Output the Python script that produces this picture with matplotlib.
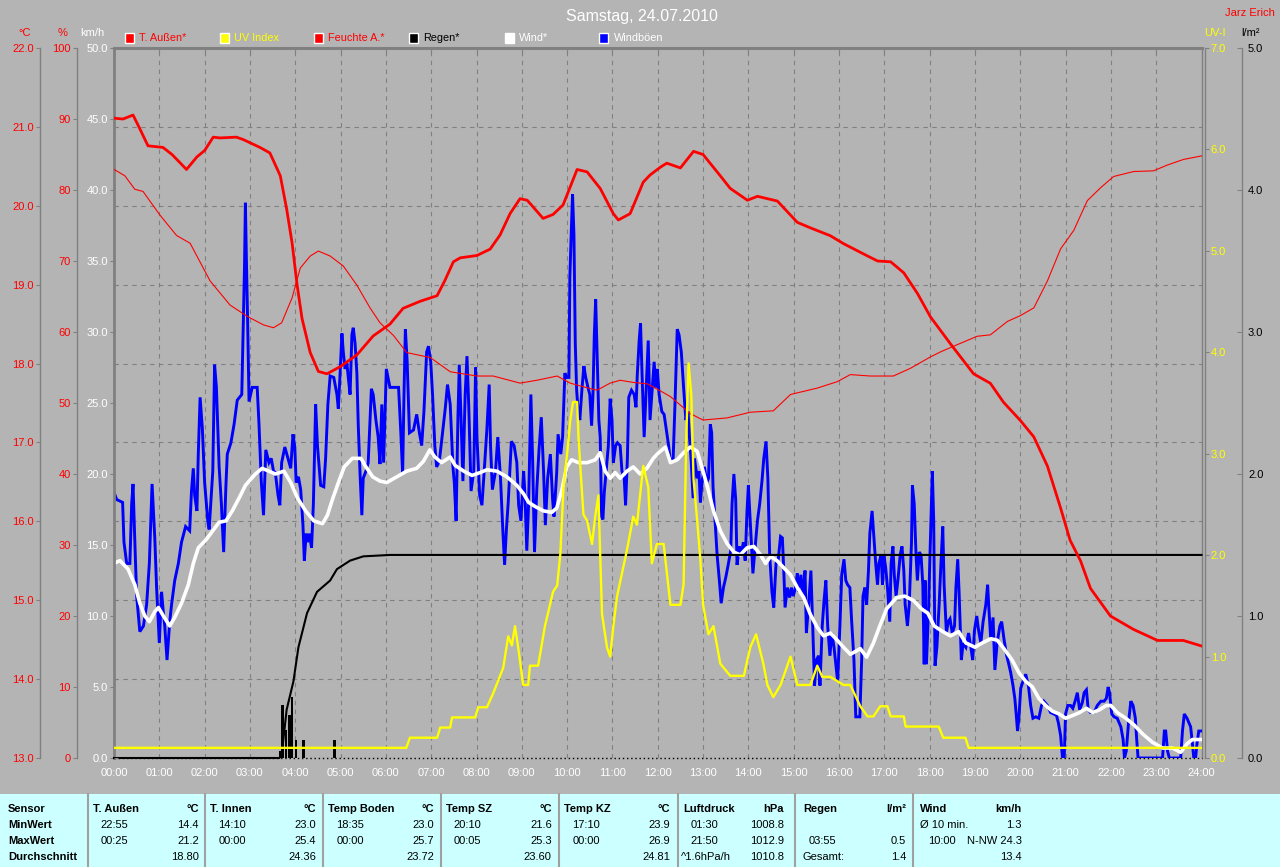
import matplotlib
matplotlib.use('Agg')
import matplotlib.pyplot as plt
from matplotlib.patches import Rectangle
from matplotlib.lines import Line2D

# ---------------- DATA ----------------
hours = list(range(25))
hour_labels = [f"{h:02d}:00" for h in hours]

temp_t = [0.00, 0.20, 0.42, 0.55, 0.75, 1.08, 1.28, 1.45, 1.60, 1.83, 2.00, 2.19, 2.34, 2.70, 2.85,
          3.22, 3.44, 3.67, 3.81, 3.93, 4.04, 4.15, 4.33, 4.51, 4.70, 4.99, 5.36, 5.72, 6.09, 6.38,
          6.76, 7.13, 7.30, 7.49, 7.64, 8.01, 8.30, 8.52, 8.74, 8.96, 9.12, 9.47, 9.69, 9.91, 10.22,
          10.44, 10.73, 11.02, 11.13, 11.39, 11.68, 11.83, 12.06, 12.20, 12.50, 12.79, 13.00, 13.38,
          13.60, 13.98, 14.20, 14.64, 15.08, 15.37, 15.81, 16.10, 16.54, 16.85, 17.14, 17.43, 17.73,
          18.02, 18.24, 18.46, 18.97, 19.34, 19.63, 20.00, 20.30, 20.60, 20.89, 21.10, 21.33, 21.55,
          21.99, 22.50, 23.03, 23.60, 24.00]
temp_v = [21.11, 21.10, 21.15, 21.00, 20.76, 20.74, 20.65, 20.55, 20.46, 20.62, 20.70, 20.87, 20.86,
          20.87, 20.84, 20.74, 20.67, 20.38, 19.96, 19.53, 19.00, 18.57, 18.14, 17.90, 17.87, 17.96,
          18.11, 18.35, 18.50, 18.70, 18.79, 18.86, 19.05, 19.29, 19.34, 19.37, 19.45, 19.63, 19.90,
          20.09, 20.07, 19.84, 19.89, 20.01, 20.46, 20.43, 20.22, 19.90, 19.82, 19.90, 20.30, 20.39,
          20.49, 20.54, 20.48, 20.69, 20.65, 20.38, 20.22, 20.07, 20.12, 20.06, 19.79, 19.72, 19.62,
          19.52, 19.39, 19.30, 19.29, 19.15, 18.89, 18.59, 18.42, 18.25, 17.87, 17.75, 17.51, 17.28,
          17.07, 16.70, 16.17, 15.76, 15.50, 15.15, 14.80, 14.63, 14.49, 14.49, 14.42]

hum_t = [0.00, 0.24, 0.46, 0.64, 1.01, 1.38, 1.68, 2.12, 2.56, 2.94, 3.30, 3.52, 3.70, 3.93, 4.11,
         4.33, 4.51, 4.77, 5.06, 5.36, 5.65, 5.87, 6.17, 6.46, 6.98, 7.42, 8.01, 8.37, 8.96, 9.33,
         9.78, 10.07, 10.29, 10.66, 10.95, 11.17, 11.46, 11.77, 12.06, 12.28, 12.72, 13.00, 13.53,
         14.04, 14.55, 14.93, 15.52, 15.96, 16.25, 16.69, 17.20, 17.58, 18.02, 18.24, 18.53, 19.05,
         19.34, 19.72, 20.00, 20.30, 20.60, 20.89, 21.18, 21.48, 21.77, 22.06, 22.50, 22.94, 23.24,
         23.60, 24.00]
hum_v = [82.9, 82.0, 80.1, 79.8, 76.5, 73.6, 72.5, 67.2, 63.8, 62.2, 61.0, 60.6, 61.3, 64.8, 69.0,
         70.7, 71.4, 70.7, 69.3, 66.6, 63.4, 61.3, 59.5, 57.1, 56.4, 54.4, 53.8, 53.8, 52.8, 53.2,
         53.8, 52.8, 52.4, 51.8, 52.8, 53.2, 52.9, 52.7, 51.7, 50.9, 48.5, 47.6, 47.9, 48.7, 48.9,
         51.2, 52.1, 53.0, 54.0, 53.8, 53.8, 54.9, 56.5, 57.2, 58.0, 59.4, 59.6, 61.5, 62.3, 63.4,
         67.2, 71.7, 74.3, 78.5, 80.3, 81.9, 82.6, 82.7, 83.5, 84.3, 84.8]

rain_sum_t = [0.00, 3.65, 3.70, 3.81, 3.96, 4.07, 4.26, 4.48, 4.77, 4.92, 5.21, 5.50, 6.09, 24.00]
rain_sum_v = [0.00, 0.00, 0.02, 0.34, 0.54, 0.78, 1.02, 1.17, 1.25, 1.33, 1.39, 1.42, 1.43, 1.43]

rain_bar_t = [3.67, 3.72, 3.80, 3.87, 3.93, 4.02, 4.18, 4.87]
rain_bar_v = [0.05, 0.37, 0.20, 0.30, 0.43, 0.13, 0.13, 0.13]

uv_t = [0.00, 6.45, 6.53, 7.13, 7.20, 7.42, 7.46, 7.97, 8.04, 8.23, 8.37, 8.59, 8.70, 8.78, 8.85,
        8.92, 9.03, 9.14, 9.18, 9.36, 9.51, 9.69, 9.78, 9.85, 9.92, 10.00, 10.07, 10.13, 10.22,
        10.25, 10.29, 10.36, 10.44, 10.55, 10.62, 10.69, 10.73, 10.77, 10.88, 10.95, 11.02, 11.10,
        11.32, 11.46, 11.54, 11.68, 11.79, 11.87, 11.98, 12.13, 12.28, 12.50, 12.57, 12.63, 12.68,
        12.74, 12.79, 12.87, 12.94, 13.00, 13.12, 13.23, 13.38, 13.60, 13.90, 14.04, 14.17, 14.33,
        14.42, 14.55, 14.71, 14.93, 15.08, 15.37, 15.52, 15.63, 15.81, 16.10, 16.25, 16.47, 16.63,
        16.76, 16.91, 17.07, 17.14, 17.43, 17.47, 18.20, 18.30, 18.79, 18.86, 24.00]
uv_v = [0.1, 0.1, 0.2, 0.2, 0.3, 0.3, 0.4, 0.4, 0.5, 0.5, 0.64, 0.89, 1.2, 1.11, 1.30,
        1.09, 0.72, 0.72, 0.91, 0.91, 1.30, 1.64, 1.70, 2.01, 2.67, 3.0, 3.33, 3.51, 3.51,
        3.17, 2.88, 2.40, 2.34, 2.11, 2.38, 2.59, 2.0, 1.42, 1.09, 1.0, 1.30, 1.59,
        2.05, 2.38, 2.30, 2.88, 2.67, 1.92, 2.11, 2.11, 1.51, 1.51, 1.71, 3.17, 3.89,
        3.58, 2.75, 2.34, 1.96, 1.51, 1.22, 1.30, 0.93, 0.81, 0.81, 1.09, 1.22, 0.93,
        0.72, 0.60, 0.72, 1.0, 0.72, 0.72, 0.91, 0.80, 0.80, 0.72, 0.72, 0.51, 0.41,
        0.41, 0.51, 0.51, 0.41, 0.41, 0.31, 0.31, 0.2, 0.2, 0.1, 0.1]

wind_t = [0.00, 0.13, 0.31, 0.46, 0.57, 0.68, 0.78, 0.90, 0.98, 1.09, 1.23, 1.34, 1.49, 1.64, 1.75,
          1.86, 2.04, 2.18, 2.32, 2.47, 2.61, 2.76, 2.90, 3.12, 3.27, 3.42, 3.56, 3.75, 3.90, 4.05,
          4.23, 4.41, 4.60, 4.71, 4.82, 4.93, 5.08, 5.26, 5.45, 5.56, 5.71, 5.87, 6.02, 6.24, 6.46,
          6.68, 6.83, 6.97, 7.08, 7.23, 7.42, 7.53, 7.72, 7.90, 8.08, 8.23, 8.45, 8.67, 8.89, 9.04,
          9.15, 9.30, 9.48, 9.66, 9.77, 9.88, 9.99, 10.10, 10.25, 10.44, 10.62, 10.73, 10.84, 10.95,
          11.06, 11.17, 11.32, 11.46, 11.61, 11.76, 11.90, 12.02, 12.17, 12.28, 12.43, 12.57, 12.72,
          12.87, 13.00, 13.12, 13.23, 13.38, 13.53, 13.68, 13.82, 13.97, 14.12, 14.27, 14.38, 14.49,
          14.63, 14.78, 14.93, 15.08, 15.22, 15.37, 15.52, 15.66, 15.81, 15.96, 16.10, 16.25, 16.36,
          16.47, 16.61, 16.76, 16.90, 17.05, 17.27, 17.45, 17.64, 17.82, 17.96, 18.10, 18.29, 18.46,
          18.64, 18.80, 19.00, 19.16, 19.35, 19.49, 19.64, 19.82, 19.97, 20.12, 20.27, 20.41, 20.56,
          20.71, 20.86, 21.00, 21.16, 21.31, 21.46, 21.60, 21.75, 21.90, 22.00, 22.14, 22.33, 22.52,
          22.70, 22.92, 23.14, 23.36, 23.54, 23.68, 23.80, 24.00]
wind_v = [13.7, 13.9, 13.3, 12.2, 10.9, 10.0, 9.6, 10.3, 10.6, 10.0, 9.3, 9.9, 10.9, 12.2, 13.7,
          14.8, 15.4, 16.0, 16.6, 16.7, 17.4, 18.3, 19.2, 20.0, 20.4, 20.2, 20.0, 20.2, 19.4, 18.3,
          17.4, 16.7, 16.5, 17.1, 18.2, 19.2, 20.5, 21.1, 21.1, 20.5, 19.8, 19.5, 19.4, 19.8, 20.2,
          20.4, 20.9, 21.7, 21.2, 20.8, 21.2, 20.6, 20.2, 19.9, 20.1, 20.3, 20.2, 19.8, 19.2, 18.6,
          18.0, 17.7, 17.4, 17.3, 17.6, 18.8, 20.5, 21.0, 20.8, 20.8, 21.0, 21.5, 20.2, 19.7,
          20.1, 19.7, 20.2, 20.5, 20.0, 20.4, 21.1, 21.5, 21.9, 20.8, 21.0, 21.5, 21.9,
          21.6, 20.2, 18.8, 17.4, 16.0, 15.1, 14.5, 14.3, 14.8, 14.9, 14.3, 13.7, 14.2,
          13.9, 13.4, 12.9, 12.0, 11.3, 10.1, 9.2, 8.6, 8.8, 8.3, 7.8, 7.3, 7.5,
          7.7, 7.1, 8.1, 9.3, 10.5, 11.3, 11.4, 11.1, 10.5, 10.2, 9.3, 8.9, 8.6,
          8.9, 8.1, 7.8, 8.1, 8.4, 8.3, 7.7, 6.9, 6.0, 5.4, 5.0, 4.2, 3.7,
          3.3, 3.1, 2.8, 3.0, 3.2, 3.5, 3.2, 3.4, 3.7, 3.7, 3.2, 2.8, 2.3,
          1.7, 1.1, 0.7, 0.7, 0.4, 1.0, 1.3, 1.3]

gust_t = [0.00, 0.06, 0.19, 0.22, 0.28, 0.35, 0.39, 0.42, 0.46, 0.50, 0.57, 0.65, 0.72, 0.78, 0.84,
          0.90, 0.94, 1.00, 1.05, 1.09, 1.12, 1.17, 1.23, 1.27, 1.34, 1.42, 1.49, 1.58, 1.67, 1.71,
          1.75, 1.78, 1.83, 1.86, 1.90, 1.95, 2.00, 2.07, 2.10, 2.18, 2.22, 2.26, 2.32, 2.37, 2.42,
          2.47, 2.50, 2.58, 2.65, 2.72, 2.82, 2.85, 2.88, 2.90, 2.92, 2.95, 2.98, 3.05, 3.16, 3.20,
          3.25, 3.30, 3.35, 3.42, 3.47, 3.52, 3.56, 3.62, 3.66, 3.70, 3.77, 3.84, 3.90, 3.95, 3.99,
          4.02, 4.07, 4.12, 4.17, 4.20, 4.24, 4.27, 4.31, 4.36, 4.40, 4.45, 4.49, 4.52, 4.56, 4.63,
          4.67, 4.72, 4.77, 4.85, 4.92, 4.95, 4.99, 5.03, 5.06, 5.10, 5.14, 5.17, 5.21, 5.25, 5.28,
          5.32, 5.36, 5.39, 5.43, 5.47, 5.50, 5.56, 5.61, 5.68, 5.72, 5.78, 5.83, 5.87, 5.91, 5.95,
          6.01, 6.09, 6.28, 6.33, 6.37, 6.40, 6.43, 6.47, 6.52, 6.61, 6.68, 6.74, 6.79, 6.84, 6.90,
          6.94, 6.99, 7.03, 7.08, 7.12, 7.18, 7.23, 7.31, 7.36, 7.42, 7.48, 7.51, 7.55, 7.59, 7.62,
          7.66, 7.70, 7.75, 7.79, 7.83, 7.88, 7.94, 7.98, 8.01, 8.07, 8.12, 8.17, 8.23, 8.28, 8.31,
          8.35, 8.42, 8.47, 8.53, 8.58, 8.62, 8.66, 8.70, 8.77, 8.83, 8.89, 8.93, 8.98, 9.04, 9.07,
          9.11, 9.15, 9.20, 9.24, 9.28, 9.33, 9.38, 9.43, 9.48, 9.52, 9.57, 9.63, 9.68, 9.71, 9.77,
          9.80, 9.86, 9.90, 9.95, 9.99, 10.04, 10.06, 10.09, 10.12, 10.15, 10.18, 10.21, 10.24, 10.28,
          10.33, 10.37, 10.41, 10.46, 10.50, 10.54, 10.57, 10.60, 10.63, 10.66, 10.70, 10.73, 10.76,
          10.79, 10.82, 10.86, 10.91, 10.95, 10.99, 11.02, 11.07, 11.11, 11.17, 11.21, 11.26, 11.29,
          11.33, 11.36, 11.42, 11.48, 11.52, 11.55, 11.59, 11.62, 11.65, 11.70, 11.74, 11.79, 11.83,
          11.87, 11.92, 11.96, 11.99, 12.03, 12.09, 12.14, 12.24, 12.28, 12.34, 12.38, 12.43, 12.47,
          12.52, 12.57, 12.62, 12.67, 12.70, 12.74, 12.78, 12.81, 12.87, 12.91, 12.94, 12.98, 13.03,
          13.08, 13.12, 13.16, 13.19, 13.22, 13.26, 13.31, 13.36, 13.40, 13.45, 13.50, 13.56, 13.61,
          13.64, 13.68, 13.72, 13.75, 13.80, 13.84, 13.89, 13.93, 13.97, 14.00, 14.03, 14.07, 14.10,
          14.16, 14.20, 14.25, 14.30, 14.34, 14.39, 14.43, 14.47, 14.52, 14.56, 14.61, 14.66, 14.71,
          14.75, 14.78, 14.81, 14.86, 14.91, 14.95, 14.99, 15.04, 15.08, 15.11, 15.16, 15.21, 15.25,
          15.28, 15.33, 15.38, 15.42, 15.46, 15.50, 15.55, 15.58, 15.63, 15.67, 15.71, 15.75, 15.80,
          15.84, 15.89, 15.93, 15.97, 16.02, 16.06, 16.11, 16.15, 16.19, 16.24, 16.28, 16.33, 16.37,
          16.42, 16.46, 16.50, 16.53, 16.57, 16.61, 16.65, 16.68, 16.73, 16.77, 16.81, 16.85, 16.88,
          16.93, 16.96, 16.99, 17.03, 17.07, 17.12, 17.15, 17.19, 17.22, 17.26, 17.30, 17.35, 17.39,
          17.43, 17.46, 17.51, 17.55, 17.60, 17.62, 17.66, 17.70, 17.73, 17.77, 17.81, 17.85, 17.88,
          17.90, 17.93, 17.98, 18.00, 18.03, 18.06, 18.09, 18.12, 18.16, 18.21, 18.25, 18.29, 18.32,
          18.37, 18.41, 18.45, 18.50, 18.55, 18.58, 18.62, 18.65, 18.70, 18.74, 18.80, 18.86, 18.91,
          18.95, 18.99, 19.04, 19.08, 19.13, 19.18, 19.24, 19.28, 19.31, 19.35, 19.40, 19.44, 19.49,
          19.55, 19.59, 19.64, 19.70, 19.74, 19.79, 19.84, 19.88, 19.91, 19.94, 19.97, 20.01, 20.06,
          20.12, 20.18, 20.23, 20.28, 20.34, 20.41, 20.47, 20.52, 20.60, 20.67, 20.74, 20.80, 20.84,
          20.89, 20.93, 20.97, 21.00, 21.05, 21.11, 21.16, 21.21, 21.26, 21.31, 21.37, 21.41, 21.46,
          21.50, 21.55, 21.63, 21.70, 21.78, 21.85, 21.90, 21.94, 21.97, 22.02, 22.07, 22.14, 22.22,
          22.27, 22.30, 22.34, 22.39, 22.44, 22.49, 22.54, 22.57, 22.60, 23.14, 23.18, 23.21, 23.25,
          23.29, 23.54, 23.58, 23.62, 23.68, 23.76, 23.80, 23.83, 23.87, 23.90, 23.94, 24.00]
gust_v = [18.7, 18.2, 18.0, 15.2, 13.7, 13.7, 17.9, 19.3, 15.2, 11.4, 8.9, 9.3, 10.8, 13.7, 19.3,
          15.5, 12.0, 8.1, 11.7, 10.2, 9.3, 6.9, 9.6, 10.8, 12.5, 13.7, 15.2, 16.3, 16.0, 18.8,
          20.4, 18.5, 17.4, 21.4, 25.4, 23.2, 19.4, 16.7, 16.1, 20.2, 27.7, 26.1, 20.5, 17.9, 14.5,
          19.2, 21.4, 22.2, 23.5, 25.2, 25.6, 30.2, 34.6, 39.1, 35.4, 30.6, 25.1, 26.1, 26.1, 23.5,
          19.5, 17.1, 21.7, 20.8, 21.1, 20.2, 20.1, 18.5, 17.8, 20.8, 21.9, 21.1, 20.4, 22.8, 21.9,
          19.4, 19.8, 18.9, 16.4, 13.9, 15.8, 15.2, 15.8, 14.8, 17.9, 24.9, 22.0, 20.8, 19.2, 19.1,
          21.1, 24.9, 26.9, 26.8, 25.6, 24.6, 27.1, 29.9, 28.6, 27.4, 27.8, 26.8, 25.6, 29.8, 30.3,
          29.2, 27.1, 23.5, 20.0, 17.1, 19.7, 20.2, 20.8, 26.0, 25.6, 23.8, 22.6, 20.7, 24.9, 20.8,
          27.4, 26.1, 26.1, 22.9, 20.0, 25.6, 30.2, 27.9, 22.9, 23.1, 24.2, 22.9, 22.0, 24.4, 28.6,
          29.0, 27.9, 25.6, 22.0, 20.5, 20.9, 22.3, 24.6, 26.3, 24.9, 20.5, 19.4, 16.7, 24.0, 27.7,
          23.8, 19.5, 25.6, 28.3, 24.7, 18.8, 20.2, 27.5, 22.6, 18.5, 17.8, 20.2, 23.2, 26.3, 22.0,
          18.9, 20.2, 22.6, 19.7, 16.1, 13.6, 16.1, 18.0, 22.3, 22.0, 20.8, 17.8, 16.7, 20.2, 18.5,
          14.6, 17.9, 25.6, 20.8, 14.5, 18.9, 21.7, 24.0, 20.2, 16.4, 19.7, 21.4, 18.2, 17.0, 20.1,
          22.8, 21.4, 22.6, 27.1, 26.8, 26.8, 33.8, 36.9, 39.7, 36.9, 29.2, 25.9, 24.6, 23.8,
          26.1, 27.6, 26.8, 26.1, 25.6, 23.4, 25.6, 29.8, 32.3, 28.6, 23.8, 22.6, 17.0,
          16.8, 18.7, 20.2, 22.0, 25.3, 23.8, 20.8, 22.0, 22.2, 22.0, 20.2, 19.7, 17.8,
          21.1, 25.4, 25.9, 25.6, 24.7, 27.1, 29.4, 30.6, 27.4, 22.6, 25.6, 29.4, 23.8,
          25.6, 27.9, 26.1, 27.4, 25.6, 24.4, 24.2, 22.0, 20.8, 21.1, 24.9, 30.2, 29.8,
          28.6, 26.1, 23.8, 24.4, 22.6, 20.8, 18.3, 21.1, 19.7, 20.2, 18.0, 19.5, 20.5,
          19.4, 19.7, 23.5, 22.9, 19.1, 17.0, 14.3, 12.5, 10.9, 12.0, 12.7, 13.7, 14.6,
          17.9, 20.0, 18.2, 13.6, 14.9, 14.3, 15.2, 13.9, 17.4, 19.2, 17.4, 14.9, 13.0,
          15.2, 16.7, 17.9, 19.5, 21.1, 22.3, 19.7, 14.3, 11.7, 10.6, 13.7, 14.0, 15.6,
          15.5, 13.3, 10.6, 12.0, 11.3, 12.0, 11.4, 12.0, 13.0, 11.7, 12.9, 11.4, 13.2,
          8.8, 10.8, 13.2, 9.3, 5.1, 6.9, 7.2, 5.1, 9.3, 11.1, 12.5, 9.3, 7.2,
          8.8, 7.8, 6.6, 5.4, 9.3, 12.9, 14.0, 12.5, 12.2, 12.0, 9.6, 6.9, 2.9,
          2.9, 2.9, 6.9, 11.4, 12.0, 10.8, 13.2, 15.8, 17.4, 15.5, 13.7, 12.2, 13.7,
          14.3, 12.2, 14.3, 13.4, 12.0, 9.6, 13.7, 14.9, 12.9, 11.4, 12.5, 14.3, 14.9,
          13.2, 10.8, 9.3, 10.8, 15.2, 19.2, 17.9, 14.3, 12.5, 14.5, 14.3, 12.2, 6.6,
          12.5, 6.6, 10.8, 13.4, 16.7, 20.2, 16.7, 6.5, 7.8, 10.8, 13.7, 16.3, 12.2,
          8.8, 9.6, 9.8, 8.8, 9.3, 12.0, 14.0, 11.7, 6.9, 8.1, 7.8, 8.8, 7.8,
          6.9, 9.0, 10.0, 9.0, 8.1, 9.6, 10.8, 12.2, 10.4, 8.3, 9.9, 6.2, 8.1,
          9.3, 9.6, 8.4, 7.2, 6.7, 6.0, 5.1, 4.2, 3.1, 1.9, 2.8, 4.9, 5.4,
          5.9, 5.1, 3.7, 2.8, 2.9, 2.8, 3.7, 4.0, 3.7, 3.2, 3.1, 3.0, 2.5,
          1.6, 0.1, 0.0, 3.1, 3.7, 3.7, 3.5, 4.0, 4.6, 3.4, 3.9, 4.6, 4.8,
          3.4, 3.2, 3.2, 3.7, 4.0, 4.0, 4.2, 5.0, 4.6, 3.1, 2.9, 2.8, 2.2,
          1.3, 0.0, 0.5, 2.5, 4.0, 3.7, 2.8, 1.3, 0.0, 0.0, 1.9, 1.9, 0.5,
          0.0, 0.0, 1.9, 3.1, 2.8, 2.2, 1.0, 0.0, 0.0, 1.0, 1.9, 1.9]

temp_ticks = [13.0, 14.0, 15.0, 16.0, 17.0, 18.0, 19.0, 20.0, 21.0, 22.0]
hum_ticks = [0, 10, 20, 30, 40, 50, 60, 70, 80, 90, 100]
kmh_ticks = [0.0, 5.0, 10.0, 15.0, 20.0, 25.0, 30.0, 35.0, 40.0, 45.0, 50.0]
uv_ticks = [0.0, 1.0, 2.0, 3.0, 4.0, 5.0, 6.0, 7.0]
rain_ticks = [0.0, 1.0, 2.0, 3.0, 4.0, 5.0]

legend_names = ["T. Außen*", "UV Index", "Feuchte A.*", "Regen*", "Wind*", "Windböen"]
legend_colors = ["#FF0000", "#FFFF00", "#FF0000", "#000000", "#FFFFFF", "#0000FF"]
legend_text_colors = ["#FF0000", "#FFFF00", "#FF0000", "#000000", "#FFFFFF", "#FFFFFF"]

tbl_sensors = ["T. Außen", "T. Innen", "Temp Boden", "Temp SZ", "Temp KZ"]
tbl_min_time = ["22:55", "14:10", "18:35", "20:10", "17:10"]
tbl_min_val = ["14.4", "23.0", "23.0", "21.6", "23.9"]
tbl_max_time = ["00:25", "00:00", "00:00", "00:05", "00:00"]
tbl_max_val = ["21.2", "25.4", "25.7", "25.3", "26.9"]
tbl_avg_val = ["18.80", "24.36", "23.72", "23.60", "24.81"]
press_left = ["01:30", "21:50", "^1.6hPa/h"]
press_val = ["1008.8", "1012.9", "1010.8"]
rain_left = ["", "03:55", "Gesamt:"]
rain_val = ["", "0.5", "1.4"]
wind_left = ["Ø 10 min.", "10:00", ""]
wind_val = ["1.3", "N-NW 24.3", "13.4"]

# ---------------- FIGURE ----------------
plt.rcParams['font.family'] = ['Liberation Sans', 'DejaVu Sans']
W, H = 1280, 867
fig = plt.figure(figsize=(12.8, 8.67), dpi=100)
BG = '#B4B4B4'
GR = '#808080'
fig.patch.set_facecolor(BG)


def fx(px):
    return px / W


def fy(py):
    return 1 - py / H


X0, X1, Y0, Y1 = 114, 1201.5, 48, 758
pw = X1 - X0
rect = [fx(X0), fy(Y1), pw / W, (Y1 - Y0) / H]
TL = 2.9  # tick length in pt (~4px)
FS = 8

# grid / temperature axis
ax_t = fig.add_axes(rect)
ax_t.set_facecolor('none')
ax_t.set_xlim(0, 24)
ax_t.set_ylim(13, 22)
ax_t.set_xticks(hours)
ax_t.set_xticklabels(hour_labels)
ax_t.set_yticks(temp_ticks)
ax_t.set_yticklabels([f"{v:.1f}" for v in temp_ticks])
ax_t.grid(True, color=GR, lw=0.8, linestyle=(0, (4, 4)))
ax_t.tick_params(axis='x', top=True, bottom=False, labelbottom=True, labeltop=False,
                 direction='in', length=3.5, color=GR, labelcolor='white', labelsize=FS, pad=7.5)
ax_t.tick_params(axis='y', left=True, right=False, direction='out', length=TL, width=0.8,
                 color=GR, labelcolor='#FF0000', labelsize=FS, pad=1.5)
ax_t.spines['left'].set_position(('axes', -(X0 - 40) / pw))
ax_t.spines['left'].set_color(GR)
ax_t.spines['left'].set_linewidth(1.0)
ax_t.spines['top'].set_color(GR)
ax_t.spines['top'].set_linewidth(2.2)
ax_t.spines['right'].set_color(GR)
ax_t.spines['right'].set_linewidth(1.0)
ax_t.spines['bottom'].set_visible(False)

# km/h axis (gusts and wind)
ax_v = ax_t.twinx()
ax_v.set_ylim(0, 50)
ax_v.yaxis.tick_left()
ax_v.yaxis.set_label_position('left')
ax_v.set_yticks(kmh_ticks)
ax_v.set_yticklabels([f"{v:.1f}" for v in kmh_ticks])
ax_v.tick_params(axis='y', direction='out', length=TL, width=0.8, color=GR,
                 labelcolor='white', labelsize=FS, pad=1.5)
for s in ['top', 'right', 'bottom']:
    ax_v.spines[s].set_visible(False)
ax_v.spines['left'].set_color(GR)
ax_v.spines['left'].set_linewidth(2.0)
ax_v.plot(gust_t, gust_v, color='#0000FF', lw=2.1, solid_joinstyle='miter')
ax_v.plot(wind_t, wind_v, color='white', lw=2.6)

# rain axis
ax_r = ax_t.twinx()
ax_r.set_ylim(0, 5)
ax_r.set_yticks(rain_ticks)
ax_r.set_yticklabels([f"{v:.1f}" for v in rain_ticks])
ax_r.tick_params(axis='y', direction='in', length=3.6, width=0.8, color=GR,
                 labelcolor='black', labelsize=FS, pad=4.3)
for s in ['top', 'left', 'bottom']:
    ax_r.spines[s].set_visible(False)
ax_r.spines['right'].set_position(('axes', 1 + 40.5 / pw))
ax_r.spines['right'].set_color(GR)
ax_r.spines['right'].set_linewidth(1.0)
ax_r.axhline(0, color='black', lw=1.0, linestyle=(0, (1, 2)), clip_on=False)
ax_r.bar(rain_bar_t, rain_bar_v, width=0.055, color='black', align='center')
ax_r.plot(rain_sum_t, rain_sum_v, color='black', lw=1.5, clip_on=False)

# humidity axis
ax_h = ax_t.twinx()
ax_h.set_ylim(0, 100)
ax_h.yaxis.tick_left()
ax_h.set_yticks(hum_ticks)
ax_h.set_yticklabels([f"{v:d}" for v in hum_ticks])
ax_h.tick_params(axis='y', direction='out', length=TL, width=0.8, color=GR,
                 labelcolor='#FF0000', labelsize=FS, pad=1.5)
for s in ['top', 'right', 'bottom']:
    ax_h.spines[s].set_visible(False)
ax_h.spines['left'].set_position(('axes', -(X0 - 77) / pw))
ax_h.spines['left'].set_color(GR)
ax_h.spines['left'].set_linewidth(1.0)
ax_h.plot(hum_t, hum_v, color='#FF0000', lw=0.8)

# UV axis
ax_uv = ax_t.twinx()
ax_uv.set_ylim(0, 7)
ax_uv.set_yticks(uv_ticks)
ax_uv.set_yticklabels([f"{v:.1f}" for v in uv_ticks])
ax_uv.tick_params(axis='y', direction='out', length=TL, width=0.8, color=GR,
                  labelcolor='#FFFF00', labelsize=FS, pad=1.5)
for s in ['top', 'left', 'bottom']:
    ax_uv.spines[s].set_visible(False)
ax_uv.spines['right'].set_position(('axes', 1 + 3.0 / pw))
ax_uv.spines['right'].set_color(GR)
ax_uv.spines['right'].set_linewidth(1.0)
ax_uv.plot(uv_t, uv_v, color='#FFFF00', lw=1.7)

# temperature line on top (with small inner ticks on plot's left edge)
ax_t2 = ax_t.twinx()
ax_t2.set_ylim(13, 22)
ax_t2.yaxis.tick_left()
ax_t2.set_yticks(temp_ticks)
ax_t2.tick_params(axis='y', direction='in', length=3.0, width=0.8, color=GR, labelleft=False)
for s in ax_t2.spines.values():
    s.set_visible(False)
ax_t2.plot(temp_t, temp_v, color='#FF0000', lw=2.0)

# ---------------- TEXTS ----------------
fig.text(fx(642), fy(16), "Samstag, 24.07.2010", ha='center', va='center',
         fontsize=11.5, color='white')
fig.text(fx(1250), fy(12.5), "Jarz Erich", ha='center', va='center', fontsize=FS, color='#FF0000')
fig.text(fx(25), fy(32.5), "°C", ha='center', va='center', fontsize=FS, color='#FF0000')
fig.text(fx(63), fy(32.5), "%", ha='center', va='center', fontsize=FS, color='#FF0000')
fig.text(fx(92), fy(32.5), "km/h", ha='center', va='center', fontsize=FS, color='white')
fig.text(fx(1215), fy(32.5), "UV-I", ha='center', va='center', fontsize=FS, color='#FFFF00')
fig.text(fx(1250), fy(32.5), "l/m²", ha='center', va='center', fontsize=FS, color='black')

leg_x = [124.5, 219.6, 314.0, 409.0, 504.5, 599.0]
for x, name, c, tc in zip(leg_x, legend_names, legend_colors, legend_text_colors):
    fig.patches.append(Rectangle((fx(x), fy(42.5)), 9 / W, 9 / H, transform=fig.transFigure,
                                 facecolor=c, edgecolor='white', lw=1.0))
    fig.text(fx(x + 14.5), fy(38), name, ha='left', va='center', fontsize=7.8, color=tc)

# ---------------- TABLE ----------------
TY0 = 794
fig.patches.append(Rectangle((0, 0), 1, fy(TY0), transform=fig.transFigure,
                             facecolor='#CCFFFF', edgecolor='none'))
seps = [87.8, 205.3, 323.3, 440.8, 559.2, 677.6, 795.0, 912.7]
for s in seps:
    fig.lines.append(Line2D([fx(s), fx(s)], [fy(TY0), 0], transform=fig.transFigure,
                            color='#A0A0A0', lw=1.5))
rows_y = [809, 824.5, 840.5, 856.5]


def T(x, y, s, ha='left', bold=False):
    fig.text(fx(x), fy(y), s, ha=ha, va='center', fontsize=FS, color='black',
             fontweight='bold' if bold else 'normal')


for y, lab in zip(rows_y, ["Sensor", "MinWert", "MaxWert", "Durchschnitt"]):
    T(8, y, lab, bold=True)

for i, s in enumerate(seps[:5]):
    T(s + 5, rows_y[0], tbl_sensors[i], bold=True)
    T(s + 111, rows_y[0], "°C", ha='right', bold=True)
    T(s + 13, rows_y[1], tbl_min_time[i])
    T(s + 111, rows_y[1], tbl_min_val[i], ha='right')
    T(s + 13, rows_y[2], tbl_max_time[i])
    T(s + 111, rows_y[2], tbl_max_val[i], ha='right')
    T(s + 111, rows_y[3], tbl_avg_val[i], ha='right')

s = seps[5]
T(s + 5.5, rows_y[0], "Luftdruck", bold=True)
T(s + 106, rows_y[0], "hPa", ha='right', bold=True)
for k in range(3):
    T(s + (13 if k < 2 else 3.5), rows_y[k + 1], press_left[k])
    T(s + 106, rows_y[k + 1], press_val[k], ha='right')

s = seps[6]
T(s + 8, rows_y[0], "Regen", bold=True)
T(s + 111, rows_y[0], "l/m²", ha='right', bold=True)
for k in range(3):
    T(s + (14 if k < 2 else 7.5), rows_y[k + 1], rain_left[k])
    T(s + 111, rows_y[k + 1], rain_val[k], ha='right')

s = seps[7]
T(s + 7, rows_y[0], "Wind", bold=True)
T(s + 109, rows_y[0], "km/h", ha='right', bold=True)
for k in range(3):
    T(s + (7 if k == 0 else 15), rows_y[k + 1], wind_left[k])
    T(s + 109, rows_y[k + 1], wind_val[k], ha='right')

fig.savefig('out.png', dpi=100, facecolor=BG)
